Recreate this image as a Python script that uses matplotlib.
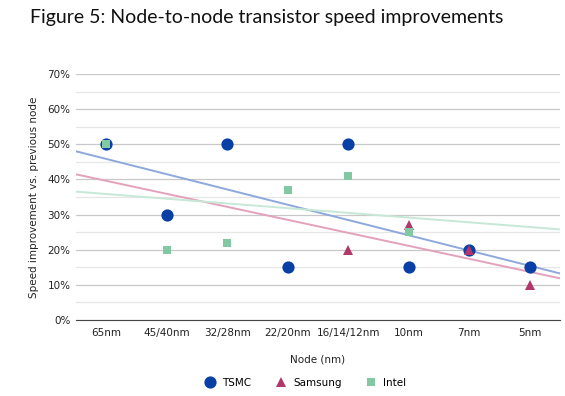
import numpy as np
import matplotlib.pyplot as plt
from matplotlib.ticker import MultipleLocator, PercentFormatter

# data
nodes = ["65nm", "45/40nm", "32/28nm", "22/20nm", "16/14/12nm", "10nm", "7nm", "5nm"]
tsmc = [50, 30, 50, 15, 50, 15, 20, 15]
samsung = [None, None, None, None, 20, 27, 20, 10]
intel = [50, 20, 22, 37, 41, 25, None, None]

series = [
    ("TSMC", tsmc, "#0a3fa5", "#8fa8dc", "o", 8.8),
    ("Samsung", samsung, "#b2386c", "#e2a2bb", "^", 7.0),
    ("Intel", intel, "#80c9a3", "#c7e8d6", "s", 5.6),
]

fig = plt.figure(figsize=(5.65, 3.96), dpi=100)
ax = fig.add_axes([76/565, 1 - 320/396, (560-76)/565, (320-74)/396])

x_all = np.arange(1, len(nodes) + 1)
xl = np.array([0.5, len(nodes) + 0.5])

# trendlines (linear fit, like the spreadsheet)
for name, vals, col, tcol, mk, ms in series:
    xs = np.array([x for x, v in zip(x_all, vals) if v is not None])
    ys = np.array([v for v in vals if v is not None])
    k, b = np.polyfit(xs, ys, 1)
    ax.plot(xl, k*xl + b, color=tcol, lw=1.4, zorder=2)

handles = []
for name, vals, col, tcol, mk, ms in series:
    xs = [x for x, v in zip(x_all, vals) if v is not None]
    ys = [v for v in vals if v is not None]
    h, = ax.plot(xs, ys, linestyle="none", marker=mk, ms=ms, color=col,
                 markeredgewidth=0, zorder=3, label=name)
    handles.append(h)

ax.set_xlim(xl)
ax.set_ylim(0, 70)
ax.set_xticks(x_all)
ax.set_xticklabels(nodes)
ax.yaxis.set_major_locator(MultipleLocator(10))
ax.yaxis.set_minor_locator(MultipleLocator(5))
ax.yaxis.set_major_formatter(PercentFormatter(decimals=0))
ax.grid(axis="y", which="major", color="#c8c8c8", lw=0.9, zorder=0)
ax.grid(axis="y", which="minor", color="#e6e6e6", lw=0.9, zorder=0)
for s in ["top", "right", "left"]:
    ax.spines[s].set_visible(False)
ax.spines["bottom"].set_color("#444444")
ax.tick_params(axis="both", which="both", length=0, labelsize=7.5, colors="#222222")
ax.tick_params(axis="x", pad=6)
ax.tick_params(axis="y", pad=4)

ax.set_ylabel("Speed improvement vs. previous node", fontsize=7.5, color="#222222", labelpad=6)
fig.text(318/565, 1 - 360/396, "Node (nm)", ha="center", va="center", fontsize=7.5, color="#222222")

fig.legend(handles=handles, loc="center", bbox_to_anchor=(305/565, 1 - 383/396), ncol=3,
           frameon=False, fontsize=7.5, handletextpad=0.6, columnspacing=2.2, handlelength=1.2)

fig.text(267/565, 1 - 18/396, "Figure 5: Node-to-node transistor speed improvements",
         ha="center", va="center", fontsize=14, family="Lato", color="#111111")

fig.savefig("out.png", dpi=100)
